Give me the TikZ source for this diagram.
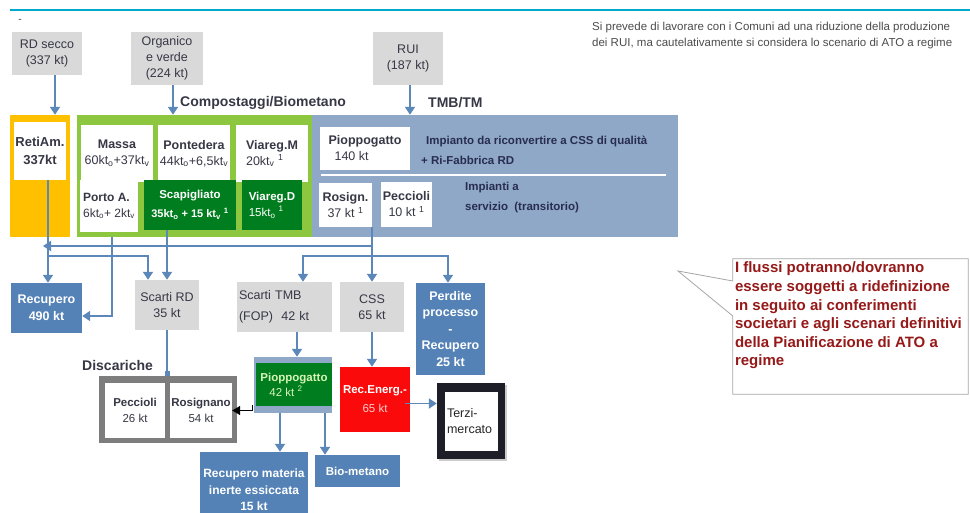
\documentclass[tikz,border=0pt]{standalone}
\usepackage{fontspec}
\setmainfont{Liberation Sans}
\usepackage{xcolor}
\usepackage{tikz}
\usetikzlibrary{arrows.meta,positioning,calc,shadows}
\definecolor{stblue}{RGB}{84,130,182}
\definecolor{tmbblue}{RGB}{143,168,200}
\definecolor{litegreen}{RGB}{141,198,63}
\definecolor{darkgreen}{RGB}{0,125,30}
\definecolor{orangebg}{RGB}{255,192,0}
\definecolor{boxgray}{RGB}{217,217,217}
\definecolor{flowblue}{RGB}{92,135,185}
\definecolor{txtdark}{RGB}{55,55,70}
\definecolor{navytxt}{RGB}{40,45,80}
\definecolor{notegray}{RGB}{75,75,75}
\definecolor{notered}{RGB}{150,25,25}
\definecolor{topline}{RGB}{0,170,205}
\definecolor{recred}{RGB}{250,10,10}
\definecolor{framegray}{RGB}{125,125,125}
\definecolor{terziframe}{RGB}{30,30,40}
\definecolor{palegreen}{RGB}{215,245,180}
\definecolor{pinktxt}{RGB}{255,205,205}

\begin{document}
\begin{tikzpicture}[
    x=1pt, y=-1pt,
    wh/.style 2 args={minimum width=#1pt, minimum height=#2pt},
    box/.style={inner sep=1pt, align=center, text=txtdark, font=\fontsize{12.5}{16}\selectfont},
    graybox/.style={box, fill=boxgray},
    whitebox/.style={box, fill=white},
    bluebox/.style={box, fill=stblue, text=white, font=\fontsize{12.5}{16.5}\selectfont\bfseries},
    greenbox/.style={box, fill=darkgreen, text=white, font=\fontsize{11.5}{16}\selectfont\bfseries},
    region/.style={inner sep=0pt},
    title/.style={inner sep=0pt, text=txtdark, font=\fontsize{14}{16}\selectfont\bfseries},
    flow/.style={draw=flowblue, line width=1.8pt, -{Triangle[width=10pt,length=8pt]}},
    link/.style={draw=flowblue, line width=1.8pt},
    blackarrow/.style={draw=black, line width=1.3pt, -{Triangle[width=9pt,length=8pt]}}
]
\useasboundingbox (0,0) rectangle (970,513);

% Header
\draw[topline, line width=2.5pt] (10,10) -- (970,10);
\node[inner sep=0pt, text=txtdark, font=\fontsize{10}{12}\selectfont] (dash) at (20,21) {-};
\node[anchor=west, align=left, inner sep=0pt, text=notegray, font=\fontsize{11.5}{16}\selectfont] (scenario) at (592,36)
    {Si prevede di lavorare con i Comuni ad una riduzione della produzione\\dei RUI, ma cautelativamente si considera lo scenario di ATO a regime};

% Input flows
\node[graybox, wh={70}{43}] (rd_secco) at (47,53.5) {RD secco\\(337 kt)};
\node[graybox, wh={72}{53}] (organico) at (167,58.5) {Organico\\e verde\\(224 kt)};
\node[graybox, wh={70}{53}] (rui) at (408,58.5) {RUI\\(187 kt)};

% RetiAmbiente
\node[region, fill=orangebg, wh={60}{122}] (reti_bg) at (40,176) {};
\node[whitebox, wh={52}{58}, font=\fontsize{13}{18}\selectfont\bfseries] (reti_am) at (40,151) {RetiAm.\\337kt};

% Compostaggi
\node[region, fill=litegreen, wh={235}{122}] (compost_bg) at (194.5,176) {};
\node[title, anchor=west] (compost_lbl) at (180,103) {Compostaggi/Biometano};
\node[whitebox, wh={72}{57}] (massa) at (117,153.5) {\textbf{Massa}\\60kt\textsubscript{o}+37kt\textsubscript{v}};
\node[whitebox, wh={72}{57}] (pontedera) at (194,153.5) {\textbf{Pontedera}\\44kt\textsubscript{o}+6,5kt\textsubscript{v}};
\node[whitebox, wh={72}{57}, align=left] (viareg_m) at (272,153.5) {\textbf{Viareg.M}\\20kt\textsubscript{v} \textsuperscript{1}};
\node[whitebox, wh={58}{52}, align=left, font=\fontsize{12}{16}\selectfont] (porto_a) at (109,206) {\textbf{Porto A.}\\6kt\textsubscript{o}+ 2kt\textsubscript{v}};
\node[greenbox, wh={92}{50}] (scapigliato) at (190,205) {Scapigliato\\[3pt]{\fontsize{11}{13}\selectfont 35kt\textsubscript{o} + 15 kt\textsubscript{v} \textsuperscript{1}}};
\node[greenbox, wh={60}{50}, align=left] (viareg_d) at (272,205) {Viareg.D\\{\mdseries 15kt\textsubscript{o} \textsuperscript{1}}};

% TMB
\node[region, fill=tmbblue, wh={366}{122}] (tmb_bg) at (495,176) {};
\node[title, anchor=west] (tmb_lbl) at (428,103) {TMB/TM};
\node[whitebox, wh={90}{43}, align=left] (pioppo_tmb) at (365,148.5) {\textbf{Pioppogatto}\\\hspace*{6pt}140 kt};
\node[anchor=west, align=left, inner sep=0pt, text=navytxt, font=\fontsize{11.5}{20}\selectfont\bfseries] (pioppo_note) at (421,150)
    {\hspace*{5pt}Impianto da riconvertire a CSS di qualità\\+ Ri-Fabbrica RD};
\draw[white, line width=1.5pt] ([xshift=9pt, yshift=1pt]tmb_bg.west) -- ([xshift=-12pt, yshift=1pt]tmb_bg.east);
\node[whitebox, wh={53}{44}] (rosign) at (345.5,205) {\textbf{Rosign.}\\37 kt \textsuperscript{1}};
\node[whitebox, wh={51}{45}] (peccioli_tmb) at (406.5,204.5) {\textbf{Peccioli}\\10 kt \textsuperscript{1}};
\node[anchor=west, align=left, inner sep=0pt, text=navytxt, font=\fontsize{11.5}{20}\selectfont\bfseries] (servizio_note) at (465,198)
    {Impianti a\\servizio\ \ (transitorio)};

% Destinations
\node[bluebox, wh={71}{50}] (recupero) at (46.5,308) {Recupero\\490 kt};
\node[graybox, wh={64}{50}] (scarti_rd) at (167,305) {Scarti RD\\35 kt};
\node[graybox, wh={95}{50}, align=left, text width=91pt, inner xsep=2pt] (scarti_tmb) at (284.5,307) {Scarti TMB\\[5pt](FOP)\ \ 42 kt};
\node[graybox, wh={64}{50}] (css) at (372,307) {CSS\\65 kt};
\node[bluebox, wh={69}{92}] (perdite) at (450.5,329) {Perdite\\processo\\-\\Recupero\\25 kt};

% Discariche
\node[title, anchor=west] (disc_lbl) at (82,365) {Discariche};
\node[region, fill=framegray, wh={138}{67}] (discariche) at (168,409.5) {};
\node[whitebox, wh={60}{55}, font=\fontsize{11.5}{16}\selectfont] (peccioli) at (135,410.5) {\textbf{Peccioli}\\26 kt};
\node[whitebox, wh={62}{55}, font=\fontsize{11.5}{16}\selectfont] (rosignano) at (201,410.5) {\textbf{Rosignano}\\54 kt};

% Pioppogatto FOP and recovery
\node[region, fill=tmbblue, wh={78}{56}] (pioppo_bg) at (293,385) {};
\node[box, fill=darkgreen, text=palegreen, wh={76}{43}, align=left, font=\fontsize{11.5}{15}\selectfont] (pioppo_fop) at (294,384.5)
    {\textbf{Pioppogatto}\\\hspace*{9pt}42 kt \textsuperscript{2}};
\node[bluebox, wh={108}{76}, font=\fontsize{12}{16.5}\selectfont\bfseries] (rec_materia) at (254,490) {Recupero materia\\inerte essiccata\\15 kt};
\node[bluebox, wh={85}{32}, font=\fontsize{11.5}{14}\selectfont\bfseries] (biometano) at (357.5,471) {Bio-metano};
\node[box, fill=recred, text=white, wh={70}{65}, font=\fontsize{11.5}{16}\selectfont] (rec_energ) at (375,399.5) {\textbf{Rec.Energ.-}\\[3pt]{\color{pinktxt}65 kt}};
\node[region, fill=terziframe, wh={68}{76}, drop shadow={shadow xshift=2pt, shadow yshift=-2pt, opacity=0.4}] (terzi_bg) at (471,421) {};
\node[whitebox, wh={53}{59}, align=left, text=black!85, text width=49pt, inner xsep=2pt] (terzi) at (471.5,421.5) {Terzi-\\mercato};

% Note
\node[region, wh={235}{135}] (note) at (850.5,326.5) {};
\coordinate (note_tip) at (678,271);
\draw[gray!70, line width=0.8pt, fill=white] (note.north west) -- (note.north east) -- (note.south east) -- (note.south west)
    -- ([yshift=10.5pt]note.west) -- (note_tip) -- ([yshift=45.5pt]note.west) -- cycle;
\node[anchor=north west, align=left, inner sep=2pt, text=notered, font=\fontsize{15}{18.6}\selectfont\bfseries] (note_text) at ([yshift=-1pt]note.north west)
    {I flussi potranno/dovranno\\essere soggetti a ridefinizione\\in seguito ai conferimenti\\societari e agli scenari definitivi\\della Pianificazione di ATO a\\regime};

% Arrows in
\draw[flow] ([xshift=8pt]rd_secco.south) -- ([xshift=8pt]rd_secco.south |- reti_bg.north);
\draw[flow] ([xshift=6pt]organico.south) -- ([xshift=6pt]organico.south |- compost_bg.north);
\draw[flow] ([xshift=2pt]rui.south) -- ([xshift=2pt]rui.south |- tmb_bg.north);

% Arrows out
\coordinate (fork_rd) at (48,256);
\coordinate (fork_back) at (372,246);
\coordinate (fork_tmb) at (372,256);
\draw[flow] ([xshift=8pt]reti_am.south) -- ([xshift=8pt]reti_am.south |- recupero.north);
\draw[flow] (fork_rd) -| ([xshift=-19pt]scarti_rd.north);
\draw[flow] (scarti_rd.north |- scapigliato.south) -- (scarti_rd.north);
\draw[flow] ([xshift=-82.5pt]compost_bg.south) |- ([yshift=-8pt]recupero.east);
\draw[flow] (css.north |- rosign.south) -- (css.north);
\draw[flow] (fork_back) -- ([xshift=3pt]fork_back -| reti_am.south);
\draw[flow] (fork_tmb) -| ([xshift=18.5pt]scarti_tmb.north);
\draw[flow] (fork_tmb) -| ([xshift=-2.5pt]perdite.north);
\draw[flow] ([xshift=12.5pt]scarti_tmb.south) -- ([xshift=12.5pt]scarti_tmb.south |- pioppo_bg.north);
\draw[link, -{Square[length=5pt, width=5pt]}] (scarti_rd.south) -- (scarti_rd.south |- discariche.north);
\draw[blackarrow] ([xshift=-1pt, yshift=-20pt]pioppo_bg.west) |- (rosignano.east);
\draw[flow] ([xshift=-13pt]pioppo_bg.south) -- ([xshift=-13pt]pioppo_bg.south |- rec_materia.north);
\draw[flow] ([xshift=32pt]pioppo_bg.south) -- ([xshift=32pt]pioppo_bg.south |- biometano.north);
\draw[flow] (css.south) -- (css.south |- rec_energ.north);
\draw[flow] ([xshift=-5pt, yshift=-4pt]rec_energ.east) -- ([yshift=-4pt]rec_energ.east -| terzi_bg.west);

\end{tikzpicture}
\end{document}
